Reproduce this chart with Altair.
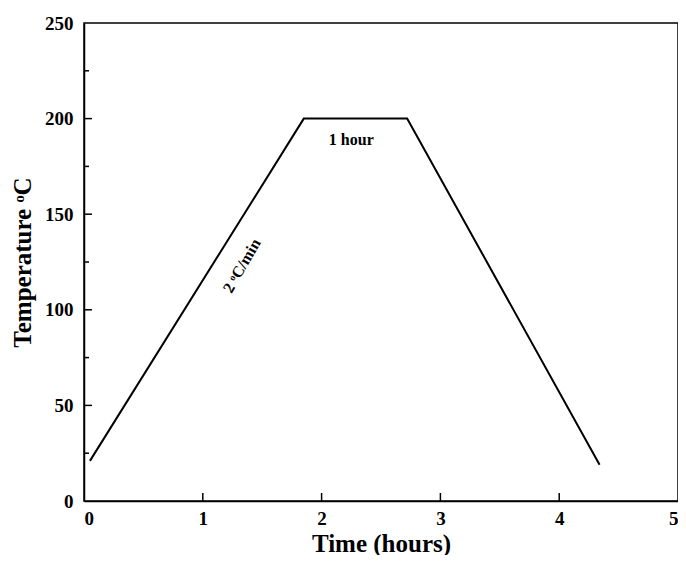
import altair as alt
import pandas as pd

# profile data
time_h = [0.05, 1.85, 2.72, 4.34]
temp_c = [21, 200, 200, 19]

x_major = [1, 2, 3, 4]
y_major = [50, 100, 150, 200]
y_minor = [25, 75, 125, 175, 225]
x_labels = [0, 1, 2, 3, 4, 5]
y_labels = [0, 50, 100, 150, 200, 250]

ann_text = ["1 hour", "2 ᵒC/min"]
ann_x = [2.25, 1.33]
ann_y = [189, 123]

FONT = "Liberation Serif"
xs = alt.Scale(domain=[0, 5], nice=False)
ys = alt.Scale(domain=[0, 250], nice=False)

df = pd.DataFrame({"t": time_h, "T": temp_c})

line = alt.Chart(df).mark_line(color="black", strokeWidth=2).encode(
    x=alt.X("t:Q", scale=xs, title="Time (hours)",
            axis=alt.Axis(values=x_labels, tickSize=0, grid=False, labelPadding=8,
                          format="d")),
    y=alt.Y("T:Q", scale=ys, title="Temperature ᵒC",
            axis=alt.Axis(values=y_labels, tickSize=0, grid=False, labelPadding=11,
                          format="d")),
    order="t:Q",
)

xt = alt.Chart(pd.DataFrame({"v": x_major})).mark_rule(color="black", strokeWidth=1.5).encode(
    x=alt.X("v:Q", scale=xs), y=alt.value(478), y2=alt.value(470))
ytM = alt.Chart(pd.DataFrame({"v": y_major})).mark_rule(color="black", strokeWidth=1.5).encode(
    y=alt.Y("v:Q", scale=ys), x=alt.value(0), x2=alt.value(8))
ytm = alt.Chart(pd.DataFrame({"v": y_minor})).mark_rule(color="black", strokeWidth=1.5).encode(
    y=alt.Y("v:Q", scale=ys), x=alt.value(0), x2=alt.value(5))

a1 = alt.Chart(pd.DataFrame({"x": [ann_x[0]], "y": [ann_y[0]], "s": [ann_text[0]]})).mark_text(
    font=FONT, fontWeight="bold", fontSize=16, color="black").encode(
    x=alt.X("x:Q", scale=xs), y=alt.Y("y:Q", scale=ys), text="s:N")
a2 = alt.Chart(pd.DataFrame({"x": [ann_x[1]], "y": [ann_y[1]], "s": [ann_text[1]]})).mark_text(
    font=FONT, fontWeight="bold", fontSize=16, color="black", angle=300).encode(
    x=alt.X("x:Q", scale=xs), y=alt.Y("y:Q", scale=ys), text="s:N")

chart = alt.layer(line, xt, ytM, ytm, a1, a2).properties(
    width=594, height=478,
    autosize=alt.AutoSizeParams(type="none"),
    padding={"left": 76, "top": 15, "right": 0, "bottom": 54},
).configure_view(stroke="black", strokeWidth=1.5).configure_axis(
    domainColor="black", domainWidth=1.5,
    labelFont=FONT, labelFontWeight="bold", labelFontSize=19, labelColor="black",
    titleFont=FONT, titleFontWeight="bold", titleFontSize=25, titleColor="black",
).configure_axisX(titlePadding=3).configure_axisY(titlePadding=9)

chart.save("out.html", embed_options={"renderer": "svg", "actions": False})
